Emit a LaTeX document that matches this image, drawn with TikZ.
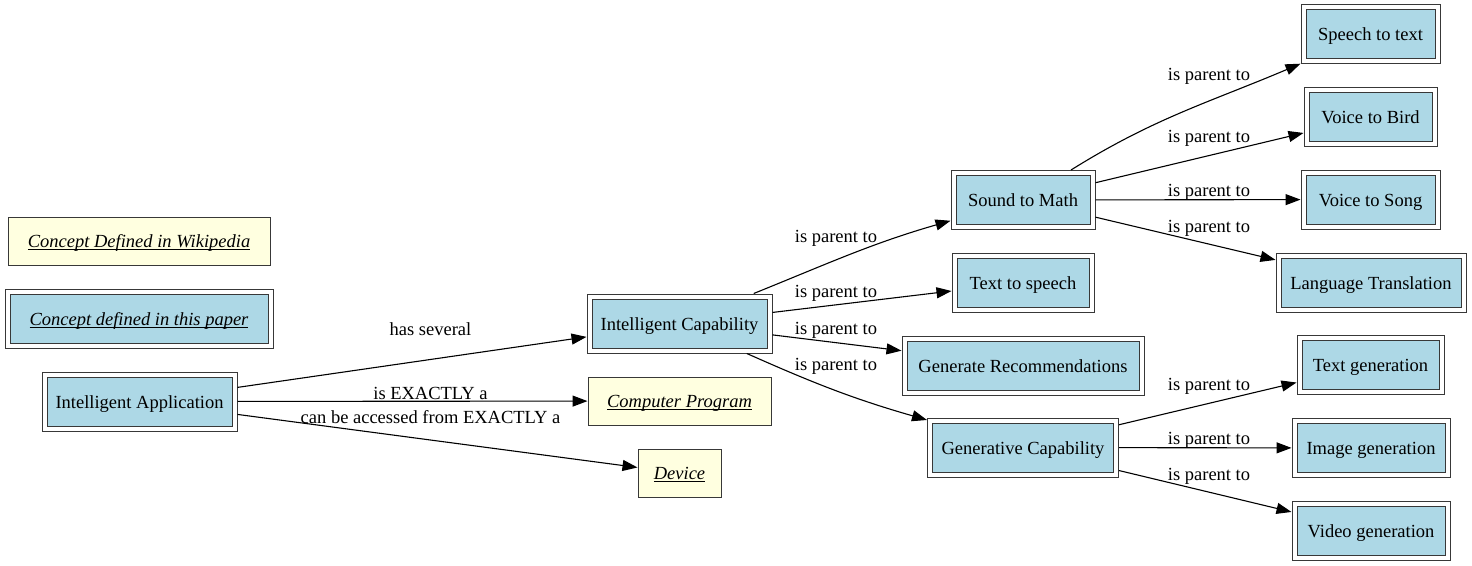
\documentclass[tikz,border=0pt]{standalone}
\usepackage{fontspec}
\setmainfont{LiberationSerif}[Extension=.ttf, UprightFont=*-Regular, ItalicFont=*-Italic, BoldFont=*-Bold]
\usetikzlibrary{arrows.meta}
\definecolor{lblue}{HTML}{ADD8E6}
\definecolor{lyel}{HTML}{FFFFE0}
\definecolor{bord}{HTML}{383838}
\newcommand{\myul}[1]{\setbox0\hbox{#1}\rlap{\rule[-2.6pt]{\wd0}{0.9pt}}\box0}
\tikzset{
  dbl/.style={draw=bord, line width=1pt, fill=white, minimum height=59pt,
    inner sep=0pt, outer sep=0.5pt, text height=15.5pt, text depth=2pt,
    path picture={\draw[bord, fill=lblue, line width=1pt]
      ([shift={(5pt,5pt)}]path picture bounding box.south west) rectangle
      ([shift={(-5pt,-5pt)}]path picture bounding box.north east);}},
  sgl/.style={draw=bord, line width=1pt, fill=lyel, minimum height=48pt,
    inner sep=0pt, outer sep=0.5pt, text height=15pt, text depth=3pt},
  conn/.style={-{Triangle[length=15pt,width=11pt]}, line width=1.1pt, black},
  lbl/.style={inner sep=0pt}
}
\begin{document}
\begin{tikzpicture}[x=1pt,y=1pt,font=\fontsize{18.5pt}{22pt}\selectfont]
\useasboundingbox (0,0) rectangle (1472,-565);
% legend
\node[sgl, minimum width=262pt] (cdw) at (139,-241) {\myul{\textit{Concept Defined in Wikipedia}}};
\node[dbl, minimum width=268pt] (cdp) at (139,-318.5) {\myul{\textit{Concept defined in this paper}}};
% main nodes
\node[dbl, minimum width=195pt] (ia) at (139.5,-401.5) {Intelligent Application};
\node[dbl, minimum width=185pt] (ic) at (679.5,-323.5) {Intelligent Capability};
\node[sgl, minimum width=183pt] (cp) at (679.5,-401) {\myul{\textit{Computer Program}}};
\node[sgl, minimum width=83pt] (dev) at (679.5,-473) {\myul{\textit{Device}}};
\node[dbl, minimum width=144pt] (sm) at (1023,-200) {Sound to Math};
\node[dbl, minimum width=142pt] (tts) at (1023,-282.5) {Text to speech};
\node[dbl, minimum width=242pt] (gr) at (1023,-365.5) {Generate Recommendations};
\node[dbl, minimum width=191pt] (gc) at (1023,-447.5) {Generative Capability};
\node[dbl, minimum width=139pt] (stt) at (1370.5,-34) {Speech to text};
\node[dbl, minimum width=133pt] (vb) at (1370.5,-117) {Voice to Bird};
\node[dbl, minimum width=139pt] (vs) at (1370.5,-199.5) {Voice to Song};
\node[dbl, minimum width=190pt] (lt) at (1371,-282.5) {Language Translation};
\node[dbl, minimum width=147pt] (tg) at (1370.5,-365) {Text generation};
\node[dbl, minimum width=158pt] (ig) at (1371,-448) {Image generation};
\node[dbl, minimum width=158pt] (vg) at (1371,-531) {Video generation};
% edges
\draw[conn] (ia) -- (ic);
\draw[conn] (ia) -- (cp);
\draw[conn] (ia) -- (dev);
\draw[conn] (ic) to[out=22,in=196] (sm);
\draw[conn] (ic) -- (tts);
\draw[conn] (ic) -- (gr);
\draw[conn] (ic) to[out=-24,in=164] (gc);
\draw[conn] (sm) to[out=32,in=203] (stt);
\draw[conn] (sm) -- (vb);
\draw[conn] (sm) -- (vs);
\draw[conn] (sm) -- (lt);
\draw[conn] (gc) -- (tg);
\draw[conn] (gc) -- (ig);
\draw[conn] (gc) -- (vg);
% labels
\node[lbl] (l1) at (430.5,-329.5) {has several};
\node[lbl] (l2) at (430.5,-393) {is EXACTLY a};
\node[lbl] (l3) at (430.5,-417) {can be accessed from EXACTLY a};
\node[lbl] (l4) at (836,-238.5) {is parent to};
\node[lbl] (l5) at (836,-293.5) {is parent to};
\node[lbl] (l6) at (836,-330) {is parent to};
\node[lbl] (l7) at (836,-366.5) {is parent to};
\node[lbl] (l8) at (1209,-76) {is parent to};
\node[lbl] (l9) at (1209,-138.5) {is parent to};
\node[lbl] (l10) at (1209,-192.5) {is parent to};
\node[lbl] (l11) at (1209,-228.5) {is parent to};
\node[lbl] (l12) at (1209,-386) {is parent to};
\node[lbl] (l13) at (1209,-440) {is parent to};
\node[lbl] (l14) at (1209,-476.5) {is parent to};
\end{tikzpicture}
\end{document}
